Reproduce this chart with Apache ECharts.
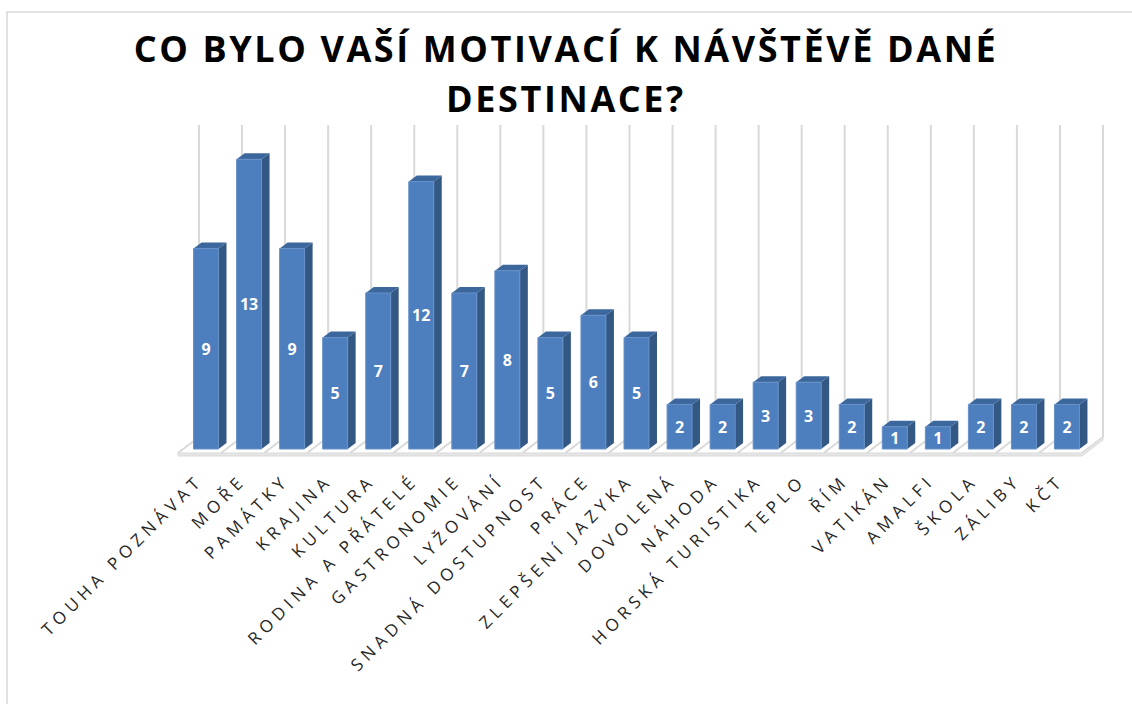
<!DOCTYPE html>
<html>
<head>
<meta charset="utf-8">
<script src="https://cdn.jsdelivr.net/npm/echarts@6/dist/echarts.min.js"></script>
<style>
  html, body { margin: 0; padding: 0; background: #fff; }
  #chart { width: 1132px; height: 704px; }
  /* Excel-like letter spacing: axis labels wide, title a bit, bar labels none */
  #chart text { letter-spacing: 5px; }
  #chart text[style*="36px"] { letter-spacing: 2.6px; }
  #chart text[style*="bold 16px"] { letter-spacing: 0; }
</style>
</head>
<body>
<div id="chart"></div>
<script>
// data
var categories = ['TOUHA POZNÁVAT', 'MOŘE', 'PAMÁTKY', 'KRAJINA', 'KULTURA', 'RODINA A PŘÁTELÉ',
  'GASTRONOMIE', 'LYŽOVÁNÍ', 'SNADNÁ DOSTUPNOST', 'PRÁCE', 'ZLEPŠENÍ JAZYKA', 'DOVOLENÁ',
  'NÁHODA', 'HORSKÁ TURISTIKA', 'TEPLO', 'ŘÍM', 'VATIKÁN', 'AMALFI', 'ŠKOLA', 'ZÁLIBY', 'KČT'];
var counts = [9, 13, 9, 5, 7, 12, 7, 8, 5, 6, 5, 2, 2, 3, 3, 2, 1, 1, 2, 2, 2];
var axisMax = 14;
var titleText = 'CO BYLO VAŠÍ MOTIVACÍ K NÁVŠTĚVĚ DANÉ\nDESTINACE?';

// 3d look
var backDx = 21, backDy = -16;   // floor depth (front edge -> back wall)
var barOx = 6.5, barOy = -4;     // bar front plane inside floor
var barDx = 8, barDy = -6;       // bar depth
var gridColor = '#d9d9d9';

var chart = echarts.init(document.getElementById('chart'), null, { renderer: 'svg' });

// back wall + floor, drawn once
function renderWall(params, api) {
  var w = api.size([1, 0])[0];
  var y0 = api.coord([0, 0])[1];
  var yTop = api.coord([0, axisMax])[1];
  var children = [];
  for (var k = 0; k <= categories.length; k++) {
    var x = k < categories.length ? api.coord([k, 0])[0] - w / 2 : api.coord([k - 1, 0])[0] + w / 2;
    // vertical gridline on back wall
    children.push({
      type: 'line',
      shape: { x1: x + backDx, y1: y0 + backDy, x2: x + backDx, y2: yTop + backDy },
      style: { stroke: gridColor, lineWidth: 2 }
    });
    // floor separator
    children.push({
      type: 'line',
      shape: { x1: x, y1: y0, x2: x + backDx, y2: y0 + backDy },
      style: { stroke: gridColor, lineWidth: 2 }
    });
  }
  var xl = api.coord([0, 0])[0] - w / 2;
  var xr = api.coord([categories.length - 1, 0])[0] + w / 2;
  children.push({
    type: 'polygon',
    shape: { points: [[xl, y0], [xr, y0], [xr + backDx, y0 + backDy], [xr + backDx, y0 + backDy + 3], [xr, y0 + 3], [xl, y0 + 3]] },
    style: { fill: '#e6e6e6', stroke: gridColor, lineWidth: 1 }
  });
  return { type: 'group', children: children, silent: true };
}

function renderBar(params, api) {
  var idx = api.value(0);
  var val = api.value(1);
  var base = api.coord([idx, 0]);
  var top = api.coord([idx, val]);
  var bw = api.size([1, 0])[0] * 0.58;
  var x0 = base[0] + barOx - bw / 2;
  var x1 = x0 + bw;
  var yb = base[1] + barOy;
  var yt = top[1] + barOy;
  return {
    type: 'group',
    children: [
      {
        type: 'polygon',
        shape: { points: [[x1, yt], [x1 + barDx, yt + barDy], [x1 + barDx, yb + barDy], [x1, yb]] },
        style: { fill: '#345884' }
      },
      {
        type: 'polygon',
        shape: { points: [[x0, yt], [x0 + barDx, yt + barDy], [x1 + barDx, yt + barDy], [x1, yt]] },
        style: { fill: '#3c679c' }
      },
      {
        type: 'rect',
        shape: { x: x0, y: yt, width: bw, height: yb - yt },
        style: { fill: '#4d7ebd', stroke: '#6690c8', lineWidth: 1 }
      },
      {
        type: 'text',
        x: (x0 + x1) / 2,
        y: (yt + yb) / 2,
        style: {
          text: String(val),
          fill: '#fff',
          font: 'bold 16px "Open Sans"',
          align: 'center',
          verticalAlign: 'middle'
        }
      }
    ]
  };
}

var option = {
  animation: false,
  title: {
    text: titleText,
    left: 561,
    top: 18,
    textAlign: 'center',
    textStyle: {
      fontFamily: 'Open Sans',
      fontWeight: 'bold',
      fontSize: 36,
      lineHeight: 50,
      color: '#000'
    }
  },
  graphic: [{
    type: 'rect',
    shape: { x: 7, y: 12, width: 1200, height: 800 },
    style: { fill: 'none', stroke: '#d9d9d9', lineWidth: 1.5 },
    silent: true
  }],
  grid: { left: 178, right: 50, top: 141, bottom: 251 },
  xAxis: {
    type: 'category',
    data: categories,
    axisLine: { show: false },
    axisTick: { show: false },
    axisLabel: {
      interval: 0,
      rotate: 45,
      margin: 24,
      fontFamily: 'Open Sans',
      fontSize: 17,
      color: '#262626'
    }
  },
  yAxis: {
    type: 'value',
    min: 0,
    max: axisMax,
    show: false
  },
  series: [
    {
      type: 'custom',
      renderItem: renderWall,
      data: [[0, 0]],
      z: 1,
      silent: true
    },
    {
      type: 'custom',
      renderItem: renderBar,
      data: counts.map(function (v, i) { return [i, v]; }),
      encode: { x: 0, y: 1 },
      z: 2
    }
  ]
};

chart.setOption(option);
</script>
</body>
</html>
